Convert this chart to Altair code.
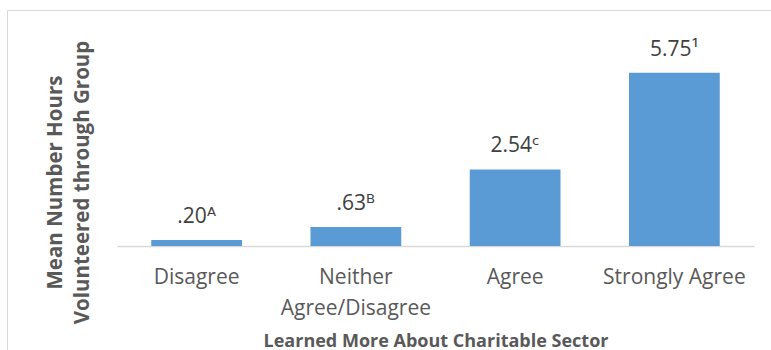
import altair as alt
import pandas as pd

categories = ["Disagree", "Neither Agree/Disagree", "Agree", "Strongly Agree"]
means = [0.20, 0.63, 2.54, 5.75]
value_labels = [".20", ".63", "2.54", "5.75"]
sup_labels = ["\u1D2C", "\u1D2E", "\u1D9C", "\u00B9"]

df = pd.DataFrame({
    "cat": categories,
    "mean": means,
    "label": [v + s for v, s in zip(value_labels, sup_labels)],
})

W, H = 637, 211
FONT = "Open Sans, DejaVu Sans, sans-serif"

x_enc = alt.X(
    "cat:N", sort=categories,
    scale=alt.Scale(paddingInner=0.43, paddingOuter=0.215),
    axis=alt.Axis(
        title="Learned More About Charitable Sector",
        labelAngle=0, ticks=False, domainColor="#D9D9D9", domainWidth=1.5,
        labelFont=FONT, labelFontSize=21, labelColor="#595959",
        labelPadding=20, labelLineHeight=31,
        labelExpr="datum.label == 'Neither Agree/Disagree' ? ['Neither', 'Agree/Disagree'] : datum.label",
        titleFont=FONT, titleFontSize=18, titleFontWeight="bold", titleColor="#595959",
        titleBaseline="alphabetic", titleY=100, titleX=W / 2,
    ),
)
y_enc = alt.Y(
    "mean:Q", scale=alt.Scale(domain=[0, 7], nice=False),
    axis=alt.Axis(
        title=["Mean Number Hours", "Volunteered through Group"],
        labels=False, ticks=False, domain=False, grid=False,
        titleFont=FONT, titleFontSize=20.5, titleFontWeight="bold", titleColor="#595959",
        titleAngle=270, titleBaseline="alphabetic", titleAlign="center",
        titleLineHeight=27, titleX=-56, titleY=147,
    ),
)

bars = alt.Chart(df).mark_bar(color="#5B9BD5").encode(x=x_enc, y=y_enc)
text = alt.Chart(df).mark_text(
    baseline="alphabetic", dy=-17, font=FONT, fontSize=21, color="#404040"
).encode(x=alt.X("cat:N", sort=categories), y="mean:Q", text="label:N")

border = alt.Chart(alt.Data(values=[{}])).mark_rect(
    filled=False, stroke="#D9D9D9", strokeWidth=1
).encode(
    x=alt.value(-109.5), x2=alt.value(760), y=alt.value(-24.5), y2=alt.value(400)
)

chart = alt.layer(border, bars, text).properties(
    width=W, height=H,
    background="white",
    autosize=alt.AutoSizeParams(type="none"),
    padding={"left": 117, "top": 35, "right": 17, "bottom": 104},
).configure_view(strokeWidth=0, stroke="transparent")

chart.save("out.html", embed_options={"renderer": "svg", "actions": False})
